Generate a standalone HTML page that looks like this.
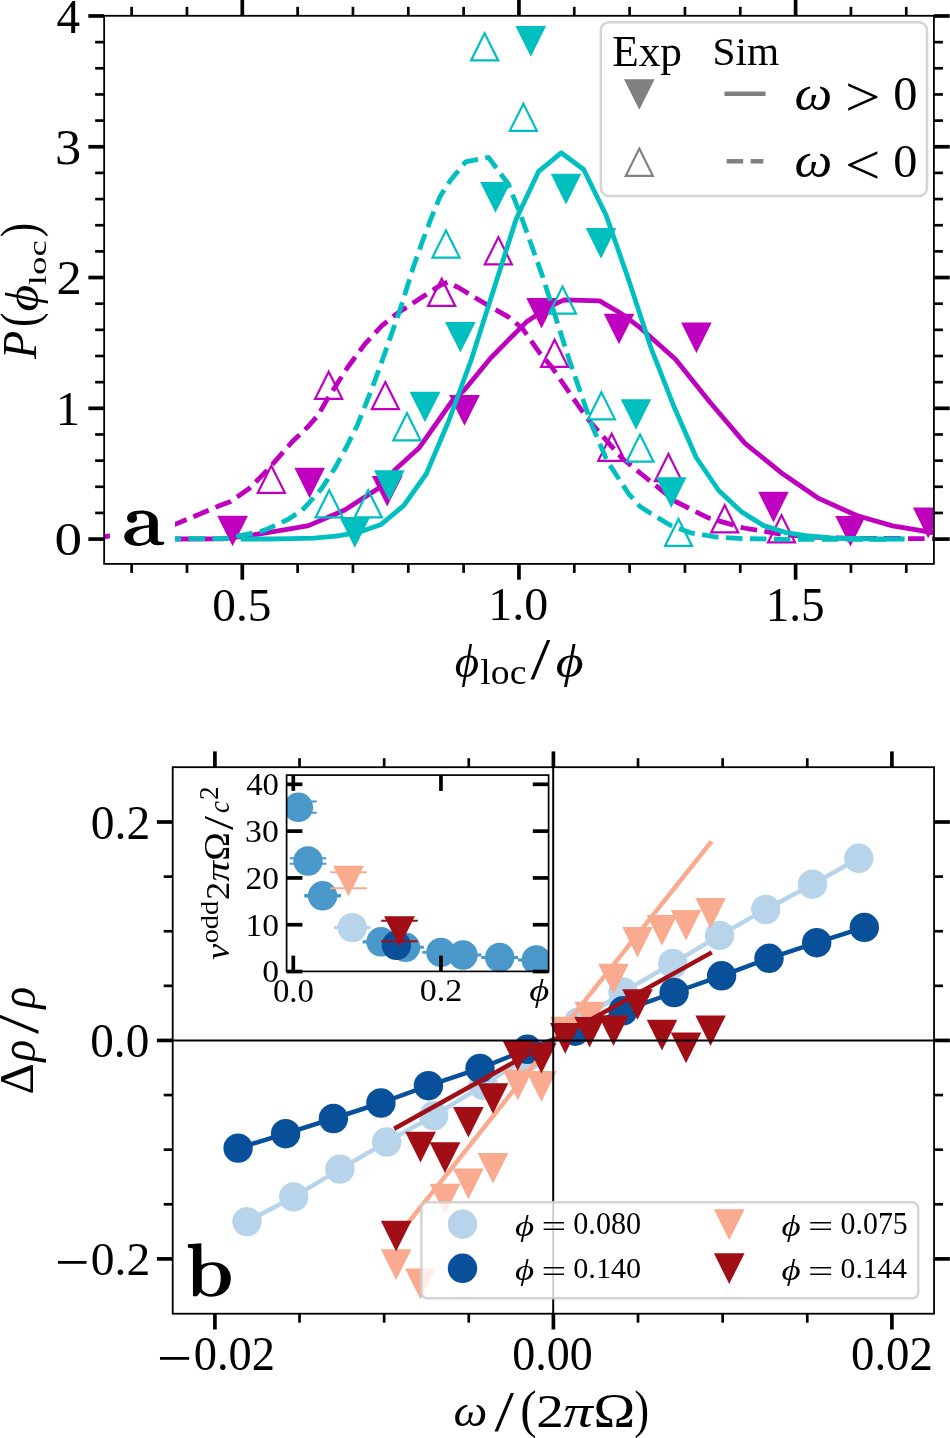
<!DOCTYPE html>
<html><head><meta charset="utf-8"><title>figure</title>
<style>html,body{margin:0;padding:0;background:#fff;} svg{display:block;will-change:transform;}</style></head>
<body><svg width="950" height="1438" viewBox="0 0 950 1438" font-family="Liberation Serif, serif">
<rect width="950" height="1438" fill="#fff"/>
<clipPath id="ca"><rect x="104.15" y="15.8" width="829.75" height="548.1"/></clipPath>
<g clip-path="url(#ca)">
<polygon points="219.0,516.9 246.2,516.9 232.6,543.9" fill="#bf00bf" stroke="#bf00bf" stroke-width="2.2" stroke-linejoin="miter"/>
<polygon points="296.1,468.8 323.2,468.8 309.6,495.9" fill="#bf00bf" stroke="#bf00bf" stroke-width="2.2" stroke-linejoin="miter"/>
<polygon points="373.6,477.0 400.8,477.0 387.2,504.1" fill="#bf00bf" stroke="#bf00bf" stroke-width="2.2" stroke-linejoin="miter"/>
<polygon points="450.9,396.2 478.1,396.2 464.5,423.3" fill="#bf00bf" stroke="#bf00bf" stroke-width="2.2" stroke-linejoin="miter"/>
<polygon points="528.0,299.0 555.0,299.0 541.5,326.1" fill="#bf00bf" stroke="#bf00bf" stroke-width="2.2" stroke-linejoin="miter"/>
<polygon points="605.5,314.8 632.5,314.8 619.0,341.9" fill="#bf00bf" stroke="#bf00bf" stroke-width="2.2" stroke-linejoin="miter"/>
<polygon points="682.9,323.6 709.9,323.6 696.4,350.8" fill="#bf00bf" stroke="#bf00bf" stroke-width="2.2" stroke-linejoin="miter"/>
<polygon points="760.0,492.9 787.0,492.9 773.5,520.0" fill="#bf00bf" stroke="#bf00bf" stroke-width="2.2" stroke-linejoin="miter"/>
<polygon points="837.0,517.0 864.0,517.0 850.5,544.0" fill="#bf00bf" stroke="#bf00bf" stroke-width="2.2" stroke-linejoin="miter"/>
<polygon points="914.7,508.7 941.8,508.7 928.2,535.8" fill="#bf00bf" stroke="#bf00bf" stroke-width="2.2" stroke-linejoin="miter"/>
<polygon points="271.3,465.7 284.9,492.8 257.8,492.8" fill="none" stroke="#bf00bf" stroke-width="2.2" stroke-linejoin="miter"/>
<polygon points="328.7,371.7 342.2,398.8 315.1,398.8" fill="none" stroke="#bf00bf" stroke-width="2.2" stroke-linejoin="miter"/>
<polygon points="385.3,382.1 398.9,409.2 371.8,409.2" fill="none" stroke="#bf00bf" stroke-width="2.2" stroke-linejoin="miter"/>
<polygon points="441.7,278.8 455.2,305.9 428.1,305.9" fill="none" stroke="#bf00bf" stroke-width="2.2" stroke-linejoin="miter"/>
<polygon points="498.4,237.2 511.9,264.3 484.8,264.3" fill="none" stroke="#bf00bf" stroke-width="2.2" stroke-linejoin="miter"/>
<polygon points="554.6,339.8 568.1,366.9 541.1,366.9" fill="none" stroke="#bf00bf" stroke-width="2.2" stroke-linejoin="miter"/>
<polygon points="611.7,433.7 625.2,460.8 598.2,460.8" fill="none" stroke="#bf00bf" stroke-width="2.2" stroke-linejoin="miter"/>
<polygon points="668.4,453.9 681.9,481.1 654.9,481.1" fill="none" stroke="#bf00bf" stroke-width="2.2" stroke-linejoin="miter"/>
<polygon points="724.7,505.3 738.2,532.4 711.2,532.4" fill="none" stroke="#bf00bf" stroke-width="2.2" stroke-linejoin="miter"/>
<polygon points="781.5,515.3 795.0,542.4 768.0,542.4" fill="none" stroke="#bf00bf" stroke-width="2.2" stroke-linejoin="miter"/>
<polyline points="110.0,539.0 175.0,539.0 222.0,538.8 250.8,535.3 273.6,531.6 290.0,528.8 308.5,525.6 344.3,510.3 379.7,487.6 395.3,469.5 419.5,447.4 452.1,401.0 464.8,389.5 490.5,358.2 506.3,342.1 526.3,322.1 549.1,306.7 564.2,299.9 599.6,300.9 622.3,314.3 640.1,327.7 675.5,359.3 710.0,402.3 745.0,443.4 782.7,473.8 818.7,498.4 856.6,515.5 892.6,525.9 934.3,532.8" fill="none" stroke="#bf00bf" stroke-width="4.8" stroke-linejoin="round" stroke-linecap="butt"/>
<polyline points="103.7,536.8 130.0,533.5 175.0,524.4 220.5,505.3 230.0,501.8 249.2,488.5 266.8,470.8 291.9,442.1 308.1,426.6 318.4,414.8 325.8,401.6 336.1,385.4 347.9,367.0 365.0,343.9 381.7,325.8 395.6,314.6 420.7,298.0 440.1,285.4 447.5,282.3 459.6,288.2 486.9,304.7 509.0,317.3 522.3,328.3 540.0,353.4 551.6,366.9 587.0,418.1 622.3,458.5 642.6,475.0 675.5,501.5 708.3,517.9 743.7,528.0 779.0,533.8 810.0,537.0 850.0,538.4 934.3,538.6" fill="none" stroke="#bf00bf" stroke-width="4.8" stroke-linejoin="round" stroke-linecap="butt" stroke-dasharray="16.6,7.4" stroke-dashoffset="3.61"/>
<polygon points="341.2,518.1 368.4,518.1 354.8,545.2" fill="#00bfbf" stroke="#00bfbf" stroke-width="2.2" stroke-linejoin="miter"/>
<polygon points="375.8,471.4 402.9,471.4 389.4,498.6" fill="#00bfbf" stroke="#00bfbf" stroke-width="2.2" stroke-linejoin="miter"/>
<polygon points="411.4,392.8 438.6,392.8 425.0,419.9" fill="#00bfbf" stroke="#00bfbf" stroke-width="2.2" stroke-linejoin="miter"/>
<polygon points="446.8,323.0 473.9,323.0 460.4,350.1" fill="#00bfbf" stroke="#00bfbf" stroke-width="2.2" stroke-linejoin="miter"/>
<polygon points="481.9,183.2 509.1,183.2 495.5,210.3" fill="#00bfbf" stroke="#00bfbf" stroke-width="2.2" stroke-linejoin="miter"/>
<polygon points="517.2,27.1 544.3,27.1 530.8,54.2" fill="#00bfbf" stroke="#00bfbf" stroke-width="2.2" stroke-linejoin="miter"/>
<polygon points="552.5,174.8 579.5,174.8 566.0,202.0" fill="#00bfbf" stroke="#00bfbf" stroke-width="2.2" stroke-linejoin="miter"/>
<polygon points="587.5,229.2 614.5,229.2 601.0,256.2" fill="#00bfbf" stroke="#00bfbf" stroke-width="2.2" stroke-linejoin="miter"/>
<polygon points="622.5,400.3 649.5,400.3 636.0,427.4" fill="#00bfbf" stroke="#00bfbf" stroke-width="2.2" stroke-linejoin="miter"/>
<polygon points="657.8,478.4 684.8,478.4 671.3,505.6" fill="#00bfbf" stroke="#00bfbf" stroke-width="2.2" stroke-linejoin="miter"/>
<polygon points="329.2,490.2 342.8,517.4 315.6,517.4" fill="none" stroke="#00bfbf" stroke-width="2.2" stroke-linejoin="miter"/>
<polygon points="368.2,490.2 381.8,517.4 354.6,517.4" fill="none" stroke="#00bfbf" stroke-width="2.2" stroke-linejoin="miter"/>
<polygon points="407.0,413.2 420.6,440.3 393.4,440.3" fill="none" stroke="#00bfbf" stroke-width="2.2" stroke-linejoin="miter"/>
<polygon points="446.0,230.4 459.6,257.6 432.4,257.6" fill="none" stroke="#00bfbf" stroke-width="2.2" stroke-linejoin="miter"/>
<polygon points="484.6,33.2 498.2,60.4 471.1,60.4" fill="none" stroke="#00bfbf" stroke-width="2.2" stroke-linejoin="miter"/>
<polygon points="523.4,103.8 536.9,130.8 509.8,130.8" fill="none" stroke="#00bfbf" stroke-width="2.2" stroke-linejoin="miter"/>
<polygon points="562.5,286.6 576.0,313.7 549.0,313.7" fill="none" stroke="#00bfbf" stroke-width="2.2" stroke-linejoin="miter"/>
<polygon points="601.4,392.2 614.9,419.3 587.9,419.3" fill="none" stroke="#00bfbf" stroke-width="2.2" stroke-linejoin="miter"/>
<polygon points="640.0,434.6 653.5,461.7 626.5,461.7" fill="none" stroke="#00bfbf" stroke-width="2.2" stroke-linejoin="miter"/>
<polygon points="678.5,518.9 692.0,545.9 665.0,545.9" fill="none" stroke="#00bfbf" stroke-width="2.2" stroke-linejoin="miter"/>
<polyline points="240.7,539.0 268.7,539.0 291.2,538.6 313.7,538.1 336.2,536.2 358.7,532.3 381.2,524.4 403.7,505.6 426.2,474.0 448.7,421.0 471.2,360.0 493.7,289.5 516.2,219.0 538.7,171.3 561.2,152.8 583.7,169.5 606.2,215.5 628.7,280.0 651.2,348.5 673.7,406.0 696.2,457.5 718.7,490.5 741.2,511.6 763.7,525.6 786.2,532.6 808.7,536.0 831.2,537.8 853.7,538.5 876.2,539.0 898.7,539.0 904.6,539.0" fill="none" stroke="#00bfbf" stroke-width="4.8" stroke-linejoin="round" stroke-linecap="butt"/>
<polyline points="110.0,539.0 226.0,538.6 237.7,536.2 260.5,531.6 266.0,529.6 287.9,519.5 302.2,510.2 310.6,501.0 319.0,491.7 322.4,487.4 335.5,467.2 347.3,445.3 357.4,425.1 370.0,393.5 381.0,364.0 391.5,334.1 399.8,310.5 413.7,266.0 422.1,242.3 430.4,220.1 440.1,196.4 449.9,181.1 465.7,161.8 488.5,157.4 508.4,184.2 520.2,213.7 542.3,275.6 569.3,360.0 592.0,425.7 607.2,461.0 628.7,493.9 640.0,506.5 650.1,513.0 670.3,525.2 690.5,532.8 715.8,537.0 744.4,538.7 791.6,539.3 895.0,539.3" fill="none" stroke="#00bfbf" stroke-width="4.8" stroke-linejoin="round" stroke-linecap="butt" stroke-dasharray="16.6,7.4" stroke-dashoffset="17.53"/>
</g>
<rect x="110" y="498" width="65" height="60" fill="#fff"/>
<path fill="#000" fill-rule="evenodd" transform="translate(118,502) scale(0.056842)" d="M 160,285 C 160,230 200,180 300,160 C 360,148 420,145 470,152 C 620,172 700,240 700,350 L 700,660 C 700,690 715,700 745,700 L 795,700 C 815,700 818,725 812,740 C 800,755 760,760 700,760 C 630,760 585,740 570,690 C 520,745 440,772 360,772 C 210,772 110,700 110,610 C 110,500 230,450 400,425 L 545,405 L 545,330 C 545,240 500,205 420,205 C 370,205 335,215 320,225 C 330,245 335,265 335,285 C 335,335 295,365 248,365 C 195,365 160,330 160,285 Z M 545,450 L 545,640 C 510,690 460,722 390,722 C 320,722 268,680 268,615 C 268,535 360,470 545,450 Z"/>
<rect x="600.8" y="22.3" width="326.2" height="173.7" rx="8" ry="8" fill="#fff" fill-opacity="0.8" stroke="#cccccc" stroke-opacity="0.85" stroke-width="2.5"/>
<text font-size="44.77" transform="translate(612.20,66.20) scale(0.9689,1)">Exp</text><text font-size="40.75" transform="translate(712.51,64.69) scale(1.0138,1)">Sim</text><text font-size="48.96" transform="translate(794.40,110.01) scale(1.0926,1)" font-style="italic">&#x3c9;</text><text font-size="56.25" transform="translate(845.06,116.46) scale(1.1158,1)">&gt;</text><text font-size="47.76" transform="translate(893.37,109.54) scale(1.0120,1)">0</text><text font-size="49.17" transform="translate(794.40,177.41) scale(1.0880,1)" font-style="italic">&#x3c9;</text><text font-size="57.45" transform="translate(845.06,184.14) scale(1.0926,1)">&lt;</text><text font-size="47.31" transform="translate(893.37,176.95) scale(1.0216,1)">0</text>
<polygon points="625.8,80.3 652.8,80.3 639.3,107.4" fill="#808080" stroke="#808080" stroke-width="2.2" stroke-linejoin="miter"/>
<polygon points="639.3,148.6 652.8,175.8 625.8,175.8" fill="none" stroke="#808080" stroke-width="2.2" stroke-linejoin="miter"/>
<line x1="724.50" y1="93.70" x2="765.50" y2="93.70" stroke="#808080" stroke-width="4.5" stroke-linecap="butt"/>
<line x1="726.60" y1="161.30" x2="743.20" y2="161.30" stroke="#808080" stroke-width="4.5" stroke-linecap="butt"/>
<line x1="750.60" y1="161.30" x2="763.40" y2="161.30" stroke="#808080" stroke-width="4.5" stroke-linecap="butt"/>
<rect x="104.15" y="15.8" width="829.75" height="548.1" fill="none" stroke="#000" stroke-width="1.8"/>
<line x1="242.30" y1="563.90" x2="242.30" y2="579.70" stroke="#000" stroke-width="3.7" stroke-linecap="butt"/>
<line x1="242.30" y1="15.80" x2="242.30" y2="0.00" stroke="#000" stroke-width="3.7" stroke-linecap="butt"/>
<line x1="518.95" y1="563.90" x2="518.95" y2="579.70" stroke="#000" stroke-width="3.7" stroke-linecap="butt"/>
<line x1="518.95" y1="15.80" x2="518.95" y2="0.00" stroke="#000" stroke-width="3.7" stroke-linecap="butt"/>
<line x1="795.60" y1="563.90" x2="795.60" y2="579.70" stroke="#000" stroke-width="3.7" stroke-linecap="butt"/>
<line x1="795.60" y1="15.80" x2="795.60" y2="0.00" stroke="#000" stroke-width="3.7" stroke-linecap="butt"/>
<line x1="131.64" y1="563.90" x2="131.64" y2="572.90" stroke="#000" stroke-width="2.7" stroke-linecap="butt"/>
<line x1="131.64" y1="15.80" x2="131.64" y2="6.80" stroke="#000" stroke-width="2.7" stroke-linecap="butt"/>
<line x1="186.97" y1="563.90" x2="186.97" y2="572.90" stroke="#000" stroke-width="2.7" stroke-linecap="butt"/>
<line x1="186.97" y1="15.80" x2="186.97" y2="6.80" stroke="#000" stroke-width="2.7" stroke-linecap="butt"/>
<line x1="297.63" y1="563.90" x2="297.63" y2="572.90" stroke="#000" stroke-width="2.7" stroke-linecap="butt"/>
<line x1="297.63" y1="15.80" x2="297.63" y2="6.80" stroke="#000" stroke-width="2.7" stroke-linecap="butt"/>
<line x1="352.96" y1="563.90" x2="352.96" y2="572.90" stroke="#000" stroke-width="2.7" stroke-linecap="butt"/>
<line x1="352.96" y1="15.80" x2="352.96" y2="6.80" stroke="#000" stroke-width="2.7" stroke-linecap="butt"/>
<line x1="408.29" y1="563.90" x2="408.29" y2="572.90" stroke="#000" stroke-width="2.7" stroke-linecap="butt"/>
<line x1="408.29" y1="15.80" x2="408.29" y2="6.80" stroke="#000" stroke-width="2.7" stroke-linecap="butt"/>
<line x1="463.62" y1="563.90" x2="463.62" y2="572.90" stroke="#000" stroke-width="2.7" stroke-linecap="butt"/>
<line x1="463.62" y1="15.80" x2="463.62" y2="6.80" stroke="#000" stroke-width="2.7" stroke-linecap="butt"/>
<line x1="574.28" y1="563.90" x2="574.28" y2="572.90" stroke="#000" stroke-width="2.7" stroke-linecap="butt"/>
<line x1="574.28" y1="15.80" x2="574.28" y2="6.80" stroke="#000" stroke-width="2.7" stroke-linecap="butt"/>
<line x1="629.61" y1="563.90" x2="629.61" y2="572.90" stroke="#000" stroke-width="2.7" stroke-linecap="butt"/>
<line x1="629.61" y1="15.80" x2="629.61" y2="6.80" stroke="#000" stroke-width="2.7" stroke-linecap="butt"/>
<line x1="684.94" y1="563.90" x2="684.94" y2="572.90" stroke="#000" stroke-width="2.7" stroke-linecap="butt"/>
<line x1="684.94" y1="15.80" x2="684.94" y2="6.80" stroke="#000" stroke-width="2.7" stroke-linecap="butt"/>
<line x1="740.27" y1="563.90" x2="740.27" y2="572.90" stroke="#000" stroke-width="2.7" stroke-linecap="butt"/>
<line x1="740.27" y1="15.80" x2="740.27" y2="6.80" stroke="#000" stroke-width="2.7" stroke-linecap="butt"/>
<line x1="850.93" y1="563.90" x2="850.93" y2="572.90" stroke="#000" stroke-width="2.7" stroke-linecap="butt"/>
<line x1="850.93" y1="15.80" x2="850.93" y2="6.80" stroke="#000" stroke-width="2.7" stroke-linecap="butt"/>
<line x1="906.26" y1="563.90" x2="906.26" y2="572.90" stroke="#000" stroke-width="2.7" stroke-linecap="butt"/>
<line x1="906.26" y1="15.80" x2="906.26" y2="6.80" stroke="#000" stroke-width="2.7" stroke-linecap="butt"/>
<line x1="104.15" y1="539.10" x2="88.35" y2="539.10" stroke="#000" stroke-width="3.7" stroke-linecap="butt"/>
<line x1="933.90" y1="539.10" x2="949.70" y2="539.10" stroke="#000" stroke-width="3.7" stroke-linecap="butt"/>
<line x1="104.15" y1="408.32" x2="88.35" y2="408.32" stroke="#000" stroke-width="3.7" stroke-linecap="butt"/>
<line x1="933.90" y1="408.32" x2="949.70" y2="408.32" stroke="#000" stroke-width="3.7" stroke-linecap="butt"/>
<line x1="104.15" y1="277.54" x2="88.35" y2="277.54" stroke="#000" stroke-width="3.7" stroke-linecap="butt"/>
<line x1="933.90" y1="277.54" x2="949.70" y2="277.54" stroke="#000" stroke-width="3.7" stroke-linecap="butt"/>
<line x1="104.15" y1="146.76" x2="88.35" y2="146.76" stroke="#000" stroke-width="3.7" stroke-linecap="butt"/>
<line x1="933.90" y1="146.76" x2="949.70" y2="146.76" stroke="#000" stroke-width="3.7" stroke-linecap="butt"/>
<line x1="104.15" y1="15.98" x2="88.35" y2="15.98" stroke="#000" stroke-width="3.7" stroke-linecap="butt"/>
<line x1="933.90" y1="15.98" x2="949.70" y2="15.98" stroke="#000" stroke-width="3.7" stroke-linecap="butt"/>
<line x1="104.15" y1="512.94" x2="95.15" y2="512.94" stroke="#000" stroke-width="2.7" stroke-linecap="butt"/>
<line x1="933.90" y1="512.94" x2="942.90" y2="512.94" stroke="#000" stroke-width="2.7" stroke-linecap="butt"/>
<line x1="104.15" y1="486.79" x2="95.15" y2="486.79" stroke="#000" stroke-width="2.7" stroke-linecap="butt"/>
<line x1="933.90" y1="486.79" x2="942.90" y2="486.79" stroke="#000" stroke-width="2.7" stroke-linecap="butt"/>
<line x1="104.15" y1="460.63" x2="95.15" y2="460.63" stroke="#000" stroke-width="2.7" stroke-linecap="butt"/>
<line x1="933.90" y1="460.63" x2="942.90" y2="460.63" stroke="#000" stroke-width="2.7" stroke-linecap="butt"/>
<line x1="104.15" y1="434.48" x2="95.15" y2="434.48" stroke="#000" stroke-width="2.7" stroke-linecap="butt"/>
<line x1="933.90" y1="434.48" x2="942.90" y2="434.48" stroke="#000" stroke-width="2.7" stroke-linecap="butt"/>
<line x1="104.15" y1="382.16" x2="95.15" y2="382.16" stroke="#000" stroke-width="2.7" stroke-linecap="butt"/>
<line x1="933.90" y1="382.16" x2="942.90" y2="382.16" stroke="#000" stroke-width="2.7" stroke-linecap="butt"/>
<line x1="104.15" y1="356.01" x2="95.15" y2="356.01" stroke="#000" stroke-width="2.7" stroke-linecap="butt"/>
<line x1="933.90" y1="356.01" x2="942.90" y2="356.01" stroke="#000" stroke-width="2.7" stroke-linecap="butt"/>
<line x1="104.15" y1="329.85" x2="95.15" y2="329.85" stroke="#000" stroke-width="2.7" stroke-linecap="butt"/>
<line x1="933.90" y1="329.85" x2="942.90" y2="329.85" stroke="#000" stroke-width="2.7" stroke-linecap="butt"/>
<line x1="104.15" y1="303.70" x2="95.15" y2="303.70" stroke="#000" stroke-width="2.7" stroke-linecap="butt"/>
<line x1="933.90" y1="303.70" x2="942.90" y2="303.70" stroke="#000" stroke-width="2.7" stroke-linecap="butt"/>
<line x1="104.15" y1="251.38" x2="95.15" y2="251.38" stroke="#000" stroke-width="2.7" stroke-linecap="butt"/>
<line x1="933.90" y1="251.38" x2="942.90" y2="251.38" stroke="#000" stroke-width="2.7" stroke-linecap="butt"/>
<line x1="104.15" y1="225.23" x2="95.15" y2="225.23" stroke="#000" stroke-width="2.7" stroke-linecap="butt"/>
<line x1="933.90" y1="225.23" x2="942.90" y2="225.23" stroke="#000" stroke-width="2.7" stroke-linecap="butt"/>
<line x1="104.15" y1="199.07" x2="95.15" y2="199.07" stroke="#000" stroke-width="2.7" stroke-linecap="butt"/>
<line x1="933.90" y1="199.07" x2="942.90" y2="199.07" stroke="#000" stroke-width="2.7" stroke-linecap="butt"/>
<line x1="104.15" y1="172.92" x2="95.15" y2="172.92" stroke="#000" stroke-width="2.7" stroke-linecap="butt"/>
<line x1="933.90" y1="172.92" x2="942.90" y2="172.92" stroke="#000" stroke-width="2.7" stroke-linecap="butt"/>
<line x1="104.15" y1="120.60" x2="95.15" y2="120.60" stroke="#000" stroke-width="2.7" stroke-linecap="butt"/>
<line x1="933.90" y1="120.60" x2="942.90" y2="120.60" stroke="#000" stroke-width="2.7" stroke-linecap="butt"/>
<line x1="104.15" y1="94.45" x2="95.15" y2="94.45" stroke="#000" stroke-width="2.7" stroke-linecap="butt"/>
<line x1="933.90" y1="94.45" x2="942.90" y2="94.45" stroke="#000" stroke-width="2.7" stroke-linecap="butt"/>
<line x1="104.15" y1="68.29" x2="95.15" y2="68.29" stroke="#000" stroke-width="2.7" stroke-linecap="butt"/>
<line x1="933.90" y1="68.29" x2="942.90" y2="68.29" stroke="#000" stroke-width="2.7" stroke-linecap="butt"/>
<line x1="104.15" y1="42.14" x2="95.15" y2="42.14" stroke="#000" stroke-width="2.7" stroke-linecap="butt"/>
<line x1="933.90" y1="42.14" x2="942.90" y2="42.14" stroke="#000" stroke-width="2.7" stroke-linecap="butt"/>
<text font-size="49.54" transform="translate(56.56,32.80) scale(0.9523,1)">4</text><text font-size="50.15" transform="translate(55.08,163.70) scale(1.0456,1)">3</text><text font-size="49.23" transform="translate(56.38,294.00) scale(1.0258,1)">2</text><text font-size="48.48" transform="translate(55.63,425.00) scale(1.0018,1)">1</text><text font-size="47.16" transform="translate(54.59,554.86) scale(1.1712,1)">0</text><text font-size="47.16" transform="translate(212.31,620.66) scale(1.0021,1)">0.5</text><text font-size="46.32" transform="translate(488.28,620.07) scale(1.0350,1)">1.0</text><text font-size="49.10" transform="translate(765.66,620.81) scale(0.9601,1)">1.5</text>
<text font-size="45.56" transform="translate(454.86,676.73) scale(1.0322,1)" font-style="italic">&#x3d5;</text><text font-size="36.00" transform="translate(480.34,683.84) scale(1.0494,1)">loc</text><text font-size="59.09" transform="translate(530.50,679.41) scale(1.2088,1)">/</text><text font-size="45.56" transform="translate(555.72,676.73) scale(1.1816,1)" font-style="italic">&#x3d5;</text>
<text font-size="49.08" transform="translate(36.00,358.90) rotate(-90) scale(0.9394,1)" font-style="italic">P</text><text font-size="52.56" transform="translate(36.76,326.92) rotate(-90) scale(0.8196,1)">(</text><text font-size="45.89" transform="translate(38.16,311.43) rotate(-90) scale(1.1220,1)" font-style="italic">&#x3d5;</text><text font-size="24.57" transform="translate(45.85,285.14) rotate(-90) scale(1.4992,1)">loc</text><text font-size="52.56" transform="translate(36.76,237.29) rotate(-90) scale(0.8196,1)">)</text>
<clipPath id="cb"><rect x="172.7" y="767.2" width="761.3499999999999" height="546.5"/></clipPath>
<g clip-path="url(#cb)">
<polyline points="247.0,1221.6 293.7,1196.9 339.9,1169.1 386.7,1142.0 433.7,1115.8 483.2,1085.3 527.6,1056.5 578.6,1022.0 623.0,991.9 672.8,963.5 719.5,935.4 765.8,909.5 812.5,884.2 858.8,858.3" fill="none" stroke="#b7d4ea" stroke-width="4.5" stroke-linejoin="round" stroke-linecap="butt"/>
<circle cx="247.0" cy="1221.6" r="14.7" fill="#b7d4ea"/>
<circle cx="293.7" cy="1196.9" r="14.7" fill="#b7d4ea"/>
<circle cx="339.9" cy="1169.1" r="14.7" fill="#b7d4ea"/>
<circle cx="386.7" cy="1142.0" r="14.7" fill="#b7d4ea"/>
<circle cx="433.7" cy="1115.8" r="14.7" fill="#b7d4ea"/>
<circle cx="483.2" cy="1085.3" r="14.7" fill="#b7d4ea"/>
<circle cx="527.6" cy="1056.5" r="14.7" fill="#b7d4ea"/>
<circle cx="578.6" cy="1022.0" r="14.7" fill="#b7d4ea"/>
<circle cx="623.0" cy="991.9" r="14.7" fill="#b7d4ea"/>
<circle cx="672.8" cy="963.5" r="14.7" fill="#b7d4ea"/>
<circle cx="719.5" cy="935.4" r="14.7" fill="#b7d4ea"/>
<circle cx="765.8" cy="909.5" r="14.7" fill="#b7d4ea"/>
<circle cx="812.5" cy="884.2" r="14.7" fill="#b7d4ea"/>
<circle cx="858.8" cy="858.3" r="14.7" fill="#b7d4ea"/>
<polyline points="238.1,1148.1 285.6,1133.7 333.4,1118.5 380.9,1103.0 428.4,1085.7 480.0,1068.4 527.4,1049.3 575.2,1031.2 623.0,1010.8 674.1,992.5 721.6,975.8 769.0,958.3 816.7,942.7 864.3,927.4" fill="none" stroke="#08509a" stroke-width="4.5" stroke-linejoin="round" stroke-linecap="butt"/>
<circle cx="238.1" cy="1148.1" r="14.7" fill="#08509a"/>
<circle cx="285.6" cy="1133.7" r="14.7" fill="#08509a"/>
<circle cx="333.4" cy="1118.5" r="14.7" fill="#08509a"/>
<circle cx="380.9" cy="1103.0" r="14.7" fill="#08509a"/>
<circle cx="428.4" cy="1085.7" r="14.7" fill="#08509a"/>
<circle cx="480.0" cy="1068.4" r="14.7" fill="#08509a"/>
<circle cx="527.4" cy="1049.3" r="14.7" fill="#08509a"/>
<circle cx="575.2" cy="1031.2" r="14.7" fill="#08509a"/>
<circle cx="623.0" cy="1010.8" r="14.7" fill="#08509a"/>
<circle cx="674.1" cy="992.5" r="14.7" fill="#08509a"/>
<circle cx="721.6" cy="975.8" r="14.7" fill="#08509a"/>
<circle cx="769.0" cy="958.3" r="14.7" fill="#08509a"/>
<circle cx="816.7" cy="942.7" r="14.7" fill="#08509a"/>
<circle cx="864.3" cy="927.4" r="14.7" fill="#08509a"/>
<line x1="396.10" y1="1238.00" x2="711.60" y2="841.40" stroke="#faaa8e" stroke-width="4.5" stroke-linecap="butt"/>
<polygon points="382.6,1250.4 409.7,1250.4 396.1,1277.5" fill="#faaa8e" stroke="#faaa8e" stroke-width="2.2" stroke-linejoin="miter"/>
<polygon points="406.9,1269.7 434.1,1269.7 420.5,1296.8" fill="#faaa8e" stroke="#faaa8e" stroke-width="2.2" stroke-linejoin="miter"/>
<polygon points="431.4,1184.8 458.6,1184.8 445.0,1211.9" fill="#faaa8e" stroke="#faaa8e" stroke-width="2.2" stroke-linejoin="miter"/>
<polygon points="454.8,1169.6 481.9,1169.6 468.4,1196.7" fill="#faaa8e" stroke="#faaa8e" stroke-width="2.2" stroke-linejoin="miter"/>
<polygon points="479.4,1154.0 506.6,1154.0 493.0,1181.0" fill="#faaa8e" stroke="#faaa8e" stroke-width="2.2" stroke-linejoin="miter"/>
<polygon points="504.2,1070.6 531.3,1070.6 517.8,1097.7" fill="#faaa8e" stroke="#faaa8e" stroke-width="2.2" stroke-linejoin="miter"/>
<polygon points="527.9,1072.2 554.9,1072.2 541.4,1099.2" fill="#faaa8e" stroke="#faaa8e" stroke-width="2.2" stroke-linejoin="miter"/>
<polygon points="551.7,1017.9 578.8,1017.9 565.2,1045.0" fill="#faaa8e" stroke="#faaa8e" stroke-width="2.2" stroke-linejoin="miter"/>
<polygon points="576.1,1002.9 603.1,1002.9 589.6,1030.0" fill="#faaa8e" stroke="#faaa8e" stroke-width="2.2" stroke-linejoin="miter"/>
<polygon points="600.0,964.9 627.0,964.9 613.5,991.9" fill="#faaa8e" stroke="#faaa8e" stroke-width="2.2" stroke-linejoin="miter"/>
<polygon points="624.0,928.0 651.0,928.0 637.5,955.0" fill="#faaa8e" stroke="#faaa8e" stroke-width="2.2" stroke-linejoin="miter"/>
<polygon points="648.5,916.1 675.5,916.1 662.0,943.2" fill="#faaa8e" stroke="#faaa8e" stroke-width="2.2" stroke-linejoin="miter"/>
<polygon points="672.5,911.0 699.5,911.0 686.0,938.0" fill="#faaa8e" stroke="#faaa8e" stroke-width="2.2" stroke-linejoin="miter"/>
<polygon points="697.1,899.1 724.1,899.1 710.6,926.2" fill="#faaa8e" stroke="#faaa8e" stroke-width="2.2" stroke-linejoin="miter"/>
<line x1="394.20" y1="1128.70" x2="711.80" y2="952.40" stroke="#a10e16" stroke-width="4.5" stroke-linecap="butt"/>
<polygon points="382.6,1221.9 409.7,1221.9 396.1,1249.0" fill="#a10e16" stroke="#a10e16" stroke-width="2.2" stroke-linejoin="miter"/>
<polygon points="406.9,1132.9 434.1,1132.9 420.5,1160.0" fill="#a10e16" stroke="#a10e16" stroke-width="2.2" stroke-linejoin="miter"/>
<polygon points="431.4,1143.4 458.6,1143.4 445.0,1170.5" fill="#a10e16" stroke="#a10e16" stroke-width="2.2" stroke-linejoin="miter"/>
<polygon points="454.8,1108.0 481.9,1108.0 468.4,1135.0" fill="#a10e16" stroke="#a10e16" stroke-width="2.2" stroke-linejoin="miter"/>
<polygon points="479.4,1084.3 506.6,1084.3 493.0,1111.4" fill="#a10e16" stroke="#a10e16" stroke-width="2.2" stroke-linejoin="miter"/>
<polygon points="504.2,1041.4 531.3,1041.4 517.8,1068.5" fill="#a10e16" stroke="#a10e16" stroke-width="2.2" stroke-linejoin="miter"/>
<polygon points="527.9,1043.9 554.9,1043.9 541.4,1071.0" fill="#a10e16" stroke="#a10e16" stroke-width="2.2" stroke-linejoin="miter"/>
<polygon points="551.7,1024.2 578.8,1024.2 565.2,1051.2" fill="#a10e16" stroke="#a10e16" stroke-width="2.2" stroke-linejoin="miter"/>
<polygon points="576.1,1018.0 603.1,1018.0 589.6,1045.0" fill="#a10e16" stroke="#a10e16" stroke-width="2.2" stroke-linejoin="miter"/>
<polygon points="600.0,1016.4 627.0,1016.4 613.5,1043.5" fill="#a10e16" stroke="#a10e16" stroke-width="2.2" stroke-linejoin="miter"/>
<polygon points="624.0,990.4 651.0,990.4 637.5,1017.4" fill="#a10e16" stroke="#a10e16" stroke-width="2.2" stroke-linejoin="miter"/>
<polygon points="648.5,1020.9 675.5,1020.9 662.0,1048.0" fill="#a10e16" stroke="#a10e16" stroke-width="2.2" stroke-linejoin="miter"/>
<polygon points="672.5,1033.7 699.5,1033.7 686.0,1060.8" fill="#a10e16" stroke="#a10e16" stroke-width="2.2" stroke-linejoin="miter"/>
<polygon points="697.1,1016.5 724.1,1016.5 710.6,1043.5" fill="#a10e16" stroke="#a10e16" stroke-width="2.2" stroke-linejoin="miter"/>
</g>
<line x1="172.70" y1="1040.45" x2="934.05" y2="1040.45" stroke="#000" stroke-width="2.0" stroke-linecap="butt"/>
<line x1="553.20" y1="767.20" x2="553.20" y2="1313.70" stroke="#000" stroke-width="2.0" stroke-linecap="butt"/>
<rect x="421.4" y="1202.3" width="496.8" height="96.0" rx="6" ry="6" fill="#fff" fill-opacity="0.8" stroke="#cccccc" stroke-opacity="0.85" stroke-width="2.5"/>
<circle cx="462.5" cy="1224.2" r="14.7" fill="#b7d4ea"/>
<circle cx="462.5" cy="1268.3" r="14.7" fill="#08509a"/>
<polygon points="715.7,1210.4 742.8,1210.4 729.2,1237.5" fill="#faaa8e" stroke="#faaa8e" stroke-width="2.2" stroke-linejoin="miter"/>
<polygon points="715.7,1254.4 742.8,1254.4 729.2,1281.5" fill="#a10e16" stroke="#a10e16" stroke-width="2.2" stroke-linejoin="miter"/>
<text font-size="29.44" transform="translate(514.96,1236.12) scale(1.2573,1)" font-style="italic">&#x3d5;</text><text font-size="31.60" transform="translate(541.52,1237.44) scale(1.3803,1)">=</text><text font-size="31.19" transform="translate(573.29,1234.48) scale(0.9676,1)">0.080</text><text font-size="29.44" transform="translate(514.96,1280.32) scale(1.2573,1)" font-style="italic">&#x3d5;</text><text font-size="31.60" transform="translate(541.52,1281.64) scale(1.3803,1)">=</text><text font-size="30.29" transform="translate(573.29,1278.39) scale(0.9964,1)">0.140</text><text font-size="29.44" transform="translate(781.56,1236.12) scale(1.2573,1)" font-style="italic">&#x3d5;</text><text font-size="31.60" transform="translate(808.07,1237.44) scale(1.4140,1)">=</text><text font-size="31.19" transform="translate(840.61,1234.48) scale(0.9573,1)">0.075</text><text font-size="29.44" transform="translate(781.56,1280.32) scale(1.2573,1)" font-style="italic">&#x3d5;</text><text font-size="31.60" transform="translate(808.07,1281.64) scale(1.4140,1)">=</text><text font-size="30.29" transform="translate(840.62,1278.39) scale(0.9767,1)">0.144</text>
<path fill="#000" fill-rule="evenodd" transform="translate(180,1235) scale(0.063158)" d="M 125,148 L 338,130 L 340,475 C 390,445 450,430 520,430 C 700,430 805,545 805,690 C 805,860 680,978 500,978 C 420,978 360,950 320,905 L 270,970 L 205,970 L 205,225 C 205,210 190,205 125,200 Z M 345,560 C 380,505 430,475 500,475 C 590,475 645,540 645,680 C 645,840 580,935 490,935 C 420,935 370,900 345,850 Z"/>
<rect x="172.7" y="767.2" width="761.3499999999999" height="546.5" fill="none" stroke="#000" stroke-width="1.8"/>
<line x1="214.90" y1="1313.70" x2="214.90" y2="1329.50" stroke="#000" stroke-width="3.7" stroke-linecap="butt"/>
<line x1="214.90" y1="767.20" x2="214.90" y2="751.40" stroke="#000" stroke-width="3.7" stroke-linecap="butt"/>
<line x1="553.40" y1="1313.70" x2="553.40" y2="1329.50" stroke="#000" stroke-width="3.7" stroke-linecap="butt"/>
<line x1="553.40" y1="767.20" x2="553.40" y2="751.40" stroke="#000" stroke-width="3.7" stroke-linecap="butt"/>
<line x1="891.90" y1="1313.70" x2="891.90" y2="1329.50" stroke="#000" stroke-width="3.7" stroke-linecap="butt"/>
<line x1="891.90" y1="767.20" x2="891.90" y2="751.40" stroke="#000" stroke-width="3.7" stroke-linecap="butt"/>
<line x1="299.52" y1="1313.70" x2="299.52" y2="1322.70" stroke="#000" stroke-width="2.7" stroke-linecap="butt"/>
<line x1="299.52" y1="767.20" x2="299.52" y2="758.20" stroke="#000" stroke-width="2.7" stroke-linecap="butt"/>
<line x1="384.15" y1="1313.70" x2="384.15" y2="1322.70" stroke="#000" stroke-width="2.7" stroke-linecap="butt"/>
<line x1="384.15" y1="767.20" x2="384.15" y2="758.20" stroke="#000" stroke-width="2.7" stroke-linecap="butt"/>
<line x1="468.77" y1="1313.70" x2="468.77" y2="1322.70" stroke="#000" stroke-width="2.7" stroke-linecap="butt"/>
<line x1="468.77" y1="767.20" x2="468.77" y2="758.20" stroke="#000" stroke-width="2.7" stroke-linecap="butt"/>
<line x1="638.02" y1="1313.70" x2="638.02" y2="1322.70" stroke="#000" stroke-width="2.7" stroke-linecap="butt"/>
<line x1="638.02" y1="767.20" x2="638.02" y2="758.20" stroke="#000" stroke-width="2.7" stroke-linecap="butt"/>
<line x1="722.65" y1="1313.70" x2="722.65" y2="1322.70" stroke="#000" stroke-width="2.7" stroke-linecap="butt"/>
<line x1="722.65" y1="767.20" x2="722.65" y2="758.20" stroke="#000" stroke-width="2.7" stroke-linecap="butt"/>
<line x1="807.27" y1="1313.70" x2="807.27" y2="1322.70" stroke="#000" stroke-width="2.7" stroke-linecap="butt"/>
<line x1="807.27" y1="767.20" x2="807.27" y2="758.20" stroke="#000" stroke-width="2.7" stroke-linecap="butt"/>
<line x1="172.70" y1="1258.90" x2="156.90" y2="1258.90" stroke="#000" stroke-width="3.7" stroke-linecap="butt"/>
<line x1="934.05" y1="1258.90" x2="949.85" y2="1258.90" stroke="#000" stroke-width="3.7" stroke-linecap="butt"/>
<line x1="172.70" y1="1040.45" x2="156.90" y2="1040.45" stroke="#000" stroke-width="3.7" stroke-linecap="butt"/>
<line x1="934.05" y1="1040.45" x2="949.85" y2="1040.45" stroke="#000" stroke-width="3.7" stroke-linecap="butt"/>
<line x1="172.70" y1="822.00" x2="156.90" y2="822.00" stroke="#000" stroke-width="3.7" stroke-linecap="butt"/>
<line x1="934.05" y1="822.00" x2="949.85" y2="822.00" stroke="#000" stroke-width="3.7" stroke-linecap="butt"/>
<line x1="172.70" y1="1204.29" x2="163.70" y2="1204.29" stroke="#000" stroke-width="2.7" stroke-linecap="butt"/>
<line x1="934.05" y1="1204.29" x2="943.05" y2="1204.29" stroke="#000" stroke-width="2.7" stroke-linecap="butt"/>
<line x1="172.70" y1="1149.67" x2="163.70" y2="1149.67" stroke="#000" stroke-width="2.7" stroke-linecap="butt"/>
<line x1="934.05" y1="1149.67" x2="943.05" y2="1149.67" stroke="#000" stroke-width="2.7" stroke-linecap="butt"/>
<line x1="172.70" y1="1095.06" x2="163.70" y2="1095.06" stroke="#000" stroke-width="2.7" stroke-linecap="butt"/>
<line x1="934.05" y1="1095.06" x2="943.05" y2="1095.06" stroke="#000" stroke-width="2.7" stroke-linecap="butt"/>
<line x1="172.70" y1="985.84" x2="163.70" y2="985.84" stroke="#000" stroke-width="2.7" stroke-linecap="butt"/>
<line x1="934.05" y1="985.84" x2="943.05" y2="985.84" stroke="#000" stroke-width="2.7" stroke-linecap="butt"/>
<line x1="172.70" y1="931.23" x2="163.70" y2="931.23" stroke="#000" stroke-width="2.7" stroke-linecap="butt"/>
<line x1="934.05" y1="931.23" x2="943.05" y2="931.23" stroke="#000" stroke-width="2.7" stroke-linecap="butt"/>
<line x1="172.70" y1="876.61" x2="163.70" y2="876.61" stroke="#000" stroke-width="2.7" stroke-linecap="butt"/>
<line x1="934.05" y1="876.61" x2="943.05" y2="876.61" stroke="#000" stroke-width="2.7" stroke-linecap="butt"/>
<text font-size="49.40" transform="translate(90.80,838.51) scale(0.9628,1)">0.2</text><text font-size="49.10" transform="translate(90.21,1056.92) scale(0.9625,1)">0.0</text><text font-size="56.00" transform="translate(54.83,1281.36) scale(1.0980,1)">&#x2212;</text><text font-size="47.16" transform="translate(90.80,1275.36) scale(1.0085,1)">0.2</text><text font-size="56.00" transform="translate(156.86,1376.76) scale(1.1208,1)">&#x2212;</text><text font-size="48.96" transform="translate(193.74,1369.82) scale(0.9495,1)">0.02</text><text font-size="48.06" transform="translate(512.36,1370.24) scale(0.9569,1)">0.00</text><text font-size="48.06" transform="translate(851.03,1370.24) scale(0.9735,1)">0.02</text>
<text font-size="44.79" transform="translate(453.56,1426.05) scale(1.0702,1)" font-style="italic">&#x3c9;</text><text font-size="57.88" transform="translate(494.40,1431.12) scale(1.2156,1)">/</text><text font-size="53.33" transform="translate(520.23,1426.80) scale(0.9231,1)">(</text><text font-size="47.23" transform="translate(536.20,1426.50) scale(1.1645,1)">2</text><text font-size="46.81" transform="translate(563.31,1426.53) scale(1.2609,1)" font-style="italic">&#x3c0;</text><text font-size="49.23" transform="translate(593.50,1426.50) scale(1.1394,1)">&#x3a9;</text><text font-size="53.33" transform="translate(634.36,1426.80) scale(0.8365,1)">)</text>
<text font-size="48.94" transform="translate(33.40,1094.46) rotate(-90) scale(1.0002,1)">&#x394;</text><text font-size="50.74" transform="translate(34.95,1061.50) rotate(-90) scale(0.8849,1)" font-style="italic">&#x3c1;</text><text font-size="57.73" transform="translate(37.82,1034.00) rotate(-90) scale(1.2064,1)">/</text><text font-size="50.74" transform="translate(34.95,1008.60) rotate(-90) scale(0.8849,1)" font-style="italic">&#x3c1;</text>
<rect x="286.6" y="775.1" width="262.0" height="196.29999999999995" fill="#fff"/>
<clipPath id="ci"><rect x="286.6" y="775.1" width="262.0" height="196.29999999999995"/></clipPath>
<g clip-path="url(#ci)">
<line x1="298.40" y1="801.60" x2="298.40" y2="812.80" stroke="#4a98c9" stroke-width="2.0" stroke-linecap="butt"/>
<line x1="280.10" y1="801.60" x2="316.70" y2="801.60" stroke="#4a98c9" stroke-width="2.0" stroke-linecap="butt"/><line x1="280.10" y1="812.80" x2="316.70" y2="812.80" stroke="#4a98c9" stroke-width="2.0" stroke-linecap="butt"/>
<circle cx="298.4" cy="807.3" r="14.7" fill="#4a98c9"/>
<line x1="308.00" y1="858.20" x2="308.00" y2="863.70" stroke="#4a98c9" stroke-width="2.0" stroke-linecap="butt"/>
<line x1="289.70" y1="858.20" x2="326.30" y2="858.20" stroke="#4a98c9" stroke-width="2.0" stroke-linecap="butt"/><line x1="289.70" y1="863.70" x2="326.30" y2="863.70" stroke="#4a98c9" stroke-width="2.0" stroke-linecap="butt"/>
<circle cx="308.0" cy="861.0" r="14.7" fill="#4a98c9"/>
<line x1="322.60" y1="895.00" x2="322.60" y2="896.60" stroke="#4a98c9" stroke-width="2.0" stroke-linecap="butt"/>
<line x1="304.30" y1="895.00" x2="340.90" y2="895.00" stroke="#4a98c9" stroke-width="2.0" stroke-linecap="butt"/><line x1="304.30" y1="896.60" x2="340.90" y2="896.60" stroke="#4a98c9" stroke-width="2.0" stroke-linecap="butt"/>
<circle cx="322.6" cy="895.8" r="14.7" fill="#4a98c9"/>
<line x1="381.00" y1="941.20" x2="381.00" y2="942.40" stroke="#4a98c9" stroke-width="2.0" stroke-linecap="butt"/>
<line x1="362.70" y1="941.20" x2="399.30" y2="941.20" stroke="#4a98c9" stroke-width="2.0" stroke-linecap="butt"/><line x1="362.70" y1="942.40" x2="399.30" y2="942.40" stroke="#4a98c9" stroke-width="2.0" stroke-linecap="butt"/>
<circle cx="381.0" cy="941.8" r="14.7" fill="#4a98c9"/>
<line x1="405.50" y1="946.80" x2="405.50" y2="947.80" stroke="#4a98c9" stroke-width="2.0" stroke-linecap="butt"/>
<line x1="387.20" y1="946.80" x2="423.80" y2="946.80" stroke="#4a98c9" stroke-width="2.0" stroke-linecap="butt"/><line x1="387.20" y1="947.80" x2="423.80" y2="947.80" stroke="#4a98c9" stroke-width="2.0" stroke-linecap="butt"/>
<circle cx="405.5" cy="947.3" r="14.7" fill="#4a98c9"/>
<line x1="440.90" y1="952.00" x2="440.90" y2="952.80" stroke="#4a98c9" stroke-width="2.0" stroke-linecap="butt"/>
<line x1="422.60" y1="952.00" x2="459.20" y2="952.00" stroke="#4a98c9" stroke-width="2.0" stroke-linecap="butt"/><line x1="422.60" y1="952.80" x2="459.20" y2="952.80" stroke="#4a98c9" stroke-width="2.0" stroke-linecap="butt"/>
<circle cx="440.9" cy="952.4" r="14.7" fill="#4a98c9"/>
<line x1="463.00" y1="954.60" x2="463.00" y2="955.40" stroke="#4a98c9" stroke-width="2.0" stroke-linecap="butt"/>
<line x1="444.70" y1="954.60" x2="481.30" y2="954.60" stroke="#4a98c9" stroke-width="2.0" stroke-linecap="butt"/><line x1="444.70" y1="955.40" x2="481.30" y2="955.40" stroke="#4a98c9" stroke-width="2.0" stroke-linecap="butt"/>
<circle cx="463.0" cy="955.0" r="14.7" fill="#4a98c9"/>
<line x1="499.70" y1="957.10" x2="499.70" y2="957.90" stroke="#4a98c9" stroke-width="2.0" stroke-linecap="butt"/>
<line x1="481.40" y1="957.10" x2="518.00" y2="957.10" stroke="#4a98c9" stroke-width="2.0" stroke-linecap="butt"/><line x1="481.40" y1="957.90" x2="518.00" y2="957.90" stroke="#4a98c9" stroke-width="2.0" stroke-linecap="butt"/>
<circle cx="499.7" cy="957.5" r="14.7" fill="#4a98c9"/>
<line x1="536.30" y1="959.60" x2="536.30" y2="960.40" stroke="#4a98c9" stroke-width="2.0" stroke-linecap="butt"/>
<line x1="518.00" y1="959.60" x2="554.60" y2="959.60" stroke="#4a98c9" stroke-width="2.0" stroke-linecap="butt"/><line x1="518.00" y1="960.40" x2="554.60" y2="960.40" stroke="#4a98c9" stroke-width="2.0" stroke-linecap="butt"/>
<circle cx="536.3" cy="960.0" r="14.7" fill="#4a98c9"/>
<line x1="334.00" y1="927.00" x2="370.60" y2="927.00" stroke="#b7d4ea" stroke-width="2.0" stroke-linecap="butt"/><line x1="334.00" y1="928.20" x2="370.60" y2="928.20" stroke="#b7d4ea" stroke-width="2.0" stroke-linecap="butt"/>
<circle cx="352.3" cy="927.6" r="14.7" fill="#b7d4ea"/>
<circle cx="396.4" cy="945.3" r="14.7" fill="#08509a"/>
<line x1="348.50" y1="872.30" x2="348.50" y2="888.30" stroke="#faaa8e" stroke-width="2.0" stroke-linecap="butt"/>
<line x1="330.20" y1="872.30" x2="366.80" y2="872.30" stroke="#faaa8e" stroke-width="2.0" stroke-linecap="butt"/><line x1="330.20" y1="888.30" x2="366.80" y2="888.30" stroke="#faaa8e" stroke-width="2.0" stroke-linecap="butt"/>
<polygon points="334.9,866.9 362.1,866.9 348.5,893.9" fill="#faaa8e" stroke="#faaa8e" stroke-width="2.2" stroke-linejoin="miter"/>
<line x1="399.50" y1="920.80" x2="399.50" y2="941.30" stroke="#a10e16" stroke-width="2.0" stroke-linecap="butt"/>
<line x1="381.20" y1="920.80" x2="417.80" y2="920.80" stroke="#a10e16" stroke-width="2.0" stroke-linecap="butt"/><line x1="381.20" y1="941.30" x2="417.80" y2="941.30" stroke="#a10e16" stroke-width="2.0" stroke-linecap="butt"/>
<polygon points="385.9,917.4 413.1,917.4 399.5,944.4" fill="#a10e16" stroke="#a10e16" stroke-width="2.2" stroke-linejoin="miter"/>
</g>
<rect x="286.6" y="775.1" width="262.0" height="196.29999999999995" fill="none" stroke="#000" stroke-width="1.7"/>
<line x1="293.30" y1="971.40" x2="293.30" y2="955.60" stroke="#000" stroke-width="3.7" stroke-linecap="butt"/>
<line x1="293.30" y1="775.10" x2="293.30" y2="790.90" stroke="#000" stroke-width="3.7" stroke-linecap="butt"/>
<line x1="440.95" y1="971.40" x2="440.95" y2="955.60" stroke="#000" stroke-width="3.7" stroke-linecap="butt"/>
<line x1="440.95" y1="775.10" x2="440.95" y2="790.90" stroke="#000" stroke-width="3.7" stroke-linecap="butt"/>
<line x1="286.60" y1="971.55" x2="302.40" y2="971.55" stroke="#000" stroke-width="3.7" stroke-linecap="butt"/>
<line x1="548.60" y1="971.55" x2="532.80" y2="971.55" stroke="#000" stroke-width="3.7" stroke-linecap="butt"/>
<line x1="286.60" y1="924.74" x2="302.40" y2="924.74" stroke="#000" stroke-width="3.7" stroke-linecap="butt"/>
<line x1="548.60" y1="924.74" x2="532.80" y2="924.74" stroke="#000" stroke-width="3.7" stroke-linecap="butt"/>
<line x1="286.60" y1="877.93" x2="302.40" y2="877.93" stroke="#000" stroke-width="3.7" stroke-linecap="butt"/>
<line x1="548.60" y1="877.93" x2="532.80" y2="877.93" stroke="#000" stroke-width="3.7" stroke-linecap="butt"/>
<line x1="286.60" y1="831.12" x2="302.40" y2="831.12" stroke="#000" stroke-width="3.7" stroke-linecap="butt"/>
<line x1="548.60" y1="831.12" x2="532.80" y2="831.12" stroke="#000" stroke-width="3.7" stroke-linecap="butt"/>
<line x1="286.60" y1="784.31" x2="302.40" y2="784.31" stroke="#000" stroke-width="3.7" stroke-linecap="butt"/>
<line x1="548.60" y1="784.31" x2="532.80" y2="784.31" stroke="#000" stroke-width="3.7" stroke-linecap="butt"/>
<text font-size="31.19" transform="translate(246.14,795.28) scale(1.0504,1)">40</text><text font-size="32.39" transform="translate(245.11,841.95) scale(1.0450,1)">30</text><text font-size="31.94" transform="translate(245.46,889.26) scale(1.0482,1)">20</text><text font-size="31.91" transform="translate(245.38,936.26) scale(1.0518,1)">10</text><text font-size="31.19" transform="translate(262.16,982.28) scale(1.0762,1)">0</text><text font-size="33.43" transform="translate(272.89,1002.03) scale(0.9817,1)">0.0</text><text font-size="31.34" transform="translate(419.64,1001.37) scale(1.0848,1)">0.2</text><text font-size="31.78" transform="translate(529.23,1001.23) scale(1.2186,1)" font-style="italic">&#x3d5;</text>
<text font-size="34.68" transform="translate(229.25,959.82) rotate(-90) scale(1.0367,1)" font-style="italic">&#x3bd;</text><text font-size="25.71" transform="translate(217.64,943.33) rotate(-90) scale(1.1023,1)">odd</text><text font-size="34.00" transform="translate(229.20,899.96) rotate(-90) scale(1.0735,1)">2</text><text font-size="34.68" transform="translate(228.85,881.41) rotate(-90) scale(1.1816,1)" font-style="italic">&#x3c0;</text><text font-size="35.85" transform="translate(229.20,860.82) rotate(-90) scale(1.0723,1)">&#x3a9;</text><text font-size="41.82" transform="translate(232.58,830.10) rotate(-90) scale(1.2127,1)">/</text><text font-size="30.42" transform="translate(228.90,812.91) rotate(-90) scale(0.8877,1)" font-style="italic">c</text><text font-size="26.31" transform="translate(217.50,799.89) rotate(-90) scale(1.0358,1)">2</text>
</svg></body></html>
